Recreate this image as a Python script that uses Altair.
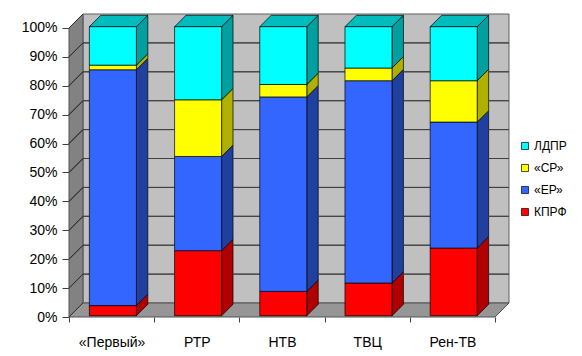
import json
import altair as alt
import pandas as pd

# ---- data ----
categories = ["«Первый»", "РТР", "НТВ", "ТВЦ", "Рен-ТВ"]
series = ["КПРФ", "«ЕР»", "«СР»", "ЛДПР"]          # bottom -> top
kprf = [3.5, 22.5, 8.4, 11.3, 23.4]
er = [81.6, 32.6, 67.3, 70.0, 43.6]
sr = [1.6, 19.6, 4.3, 4.4, 14.3]
ldpr = [13.3, 25.3, 20.0, 14.3, 18.7]
y_ticks = list(range(0, 101, 10))

values = {"КПРФ": kprf, "«ЕР»": er, "«СР»": sr, "ЛДПР": ldpr}
front_col = {"КПРФ": "#FF0000", "«ЕР»": "#3366FF", "«СР»": "#FFFF00", "ЛДПР": "#00FFFF"}
side_col = {"КПРФ": "#B00000", "«ЕР»": "#2040A0", "«СР»": "#B0B000", "ЛДПР": "#00A0A0"}
top_col = "#00BCBC"
GRID_BACK = "#404040"
GRID_LEFT = "#303030"

# ---- 3-D geometry (in data units) ----
N = len(categories)
WALL_DX, WALL_DY = 0.164, 4.84
BAR_DX, BAR_DY = 0.134, 3.94
OFF_DX, OFF_DY = (WALL_DX - BAR_DX) / 2, (WALL_DY - BAR_DY) / 2
BAR_W = 0.552

front_rows, face_rows, top_rows = [], [], []
bar_spans = []
for i, cat in enumerate(categories):
    x0 = i + 0.5 - BAR_W / 2 + OFF_DX
    x1 = x0 + BAR_W
    bar_spans.append((x0, x1 + BAR_DX))
    base = 0.0
    for s in series:
        v = values[s][i]
        lo, hi = base + OFF_DY, base + v + OFF_DY
        seg = f"s{i}-{s}"
        front_rows.append(dict(cat=cat, series=s, x0=x0, x1=x1, lo=lo, hi=hi, value=v))
        face_rows.append(dict(seg=seg, x=x1, lo=lo, hi=hi, col=side_col[s], st="black", sw=0.7))
        face_rows.append(dict(seg=seg, x=x1 + BAR_DX, lo=lo + BAR_DY, hi=hi + BAR_DY,
                              col=side_col[s], st="black", sw=0.7))
        base += v
    top = base + OFF_DY
    top_rows.append(dict(seg=str(i), y=top, xa=x0, xb=x1))
    top_rows.append(dict(seg=str(i), y=top + BAR_DY, xa=x0 + BAR_DX, xb=x1 + BAR_DX))

# grid lines as zero-height stroked areas: back wall (between bars) and left wall (diagonal)
starts = [WALL_DX] + [b[1] for b in bar_spans]
ends = [b[0] for b in bar_spans] + [N + WALL_DX]
for v in y_ticks:
    if 0 < v < 100:
        yb = v + WALL_DY
        for k, (a, b) in enumerate(zip(starts, ends)):
            seg = f"gb{v}-{k}"
            face_rows.append(dict(seg=seg, x=a, lo=yb, hi=yb, col=GRID_BACK, st=GRID_BACK, sw=1.0))
            face_rows.append(dict(seg=seg, x=b, lo=yb, hi=yb, col=GRID_BACK, st=GRID_BACK, sw=1.0))
    seg = f"gl{v}"
    face_rows.append(dict(seg=seg, x=0, lo=v, hi=v, col=GRID_LEFT, st=GRID_LEFT, sw=1.0))
    face_rows.append(dict(seg=seg, x=WALL_DX, lo=v + WALL_DY, hi=v + WALL_DY,
                          col=GRID_LEFT, st=GRID_LEFT, sw=1.0))

front_df = pd.DataFrame(front_rows)
face_df = pd.DataFrame(face_rows)
top_df = pd.DataFrame(top_rows)

back_df = pd.DataFrame([dict(x0=WALL_DX, x1=N + WALL_DX, y0=WALL_DY, y1=100 + WALL_DY)])
left_df = pd.DataFrame([dict(x=0, lo=0, hi=100), dict(x=WALL_DX, lo=WALL_DY, hi=100 + WALL_DY)])
floor_df = pd.DataFrame([dict(y=0, xa=0, xb=N), dict(y=WALL_DY, xa=WALL_DX, xb=N + WALL_DX)])

FONT = "Liberation Sans"
xscale = alt.Scale(domain=[0, N + WALL_DX], nice=False, zero=False)
yscale = alt.Scale(domain=[0, 100 + WALL_DY], nice=False)

label_arr = json.dumps(categories, ensure_ascii=False)
x_axis = alt.Axis(
    values=[k / 2 for k in range(0, 2 * N + 1)],
    labelExpr=f"datum.value % 1 === 0 ? '' : {label_arr}[floor(datum.value)]",
    tickOpacity={"condition": {"test": "datum.value % 1 === 0", "value": 1}, "value": 0},
    tickSize=5, tickColor="#404040", domain=False, grid=False, title=None,
    labelFont=FONT, labelFontSize=14, labelColor="black", labelPadding=13,
    labelFlush=False, labelOverlap=False,
)
y_axis = alt.Axis(
    values=y_ticks, labelExpr="datum.value + '%'", tickSize=7, tickColor="#404040",
    domain=False, grid=False, title=None, labelFont=FONT, labelFontSize=14,
    labelColor="black", labelPadding=5, labelOverlap=False, labelFlush=False,
)


def X(field, **kw):
    return alt.X(field, scale=xscale, axis=x_axis, **kw)


def Y(field, **kw):
    return alt.Y(field, scale=yscale, axis=y_axis, **kw)


back = alt.Chart(back_df).mark_rect(fill="#C0C0C0", stroke="#606060", strokeWidth=1).encode(
    x=X("x0:Q"), x2="x1:Q", y=Y("y0:Q"), y2="y1:Q",
)
left = alt.Chart(left_df).mark_area(fill="#828282", stroke="#505050", strokeWidth=1).encode(
    x=X("x:Q"), y=Y("lo:Q", stack=None), y2="hi:Q"
)
floor = alt.Chart(floor_df).mark_area(orient="horizontal", fill="#969696", stroke="#505050",
                                      strokeWidth=1).encode(
    y=Y("y:Q"), x=X("xa:Q", stack=None), x2="xb:Q"
)
faces = alt.Chart(face_df).mark_area(opacity=1).encode(
    x=X("x:Q"), y=Y("lo:Q", stack=None), y2="hi:Q", detail="seg:N",
    fill=alt.Fill("col:N", scale=None),
    stroke=alt.Stroke("st:N", scale=None),
    strokeWidth=alt.StrokeWidth("sw:Q", scale=None),
)
tops = alt.Chart(top_df).mark_area(orient="horizontal", fill=top_col, stroke="black",
                                   strokeWidth=0.7).encode(
    y=Y("y:Q"), x=X("xa:Q", stack=None), x2="xb:Q", detail="seg:N"
)
legend_order = ["ЛДПР", "«СР»", "«ЕР»", "КПРФ"]
fronts = alt.Chart(front_df).mark_rect(stroke="black", strokeWidth=0.7).encode(
    x=X("x0:Q"), x2="x1:Q", y=Y("lo:Q"), y2="hi:Q",
    color=alt.Color(
        "series:N",
        scale=alt.Scale(domain=legend_order, range=[front_col[s] for s in legend_order]),
        legend=alt.Legend(
            orient="none", legendX=450, legendY=126, title=None,
            symbolType="square", symbolSize=50, symbolStrokeColor="black",
            symbolStrokeWidth=0.7, symbolOpacity=1, labelFont=FONT, labelFontSize=12,
            labelColor="black", rowPadding=10, labelOffset=3, padding=0,
        ),
    ),
)

chart = (
    alt.layer(back, left, floor, faces, tops, fronts)
    .properties(
        width=440, height=303,
        autosize=alt.AutoSizeParams(type="none"),
        padding={"left": 69, "top": 14, "right": 73, "bottom": 39},
        background="white",
    )
    .configure_view(stroke=None)
)

chart.save("out.html", embed_options={"renderer": "svg", "actions": False})
